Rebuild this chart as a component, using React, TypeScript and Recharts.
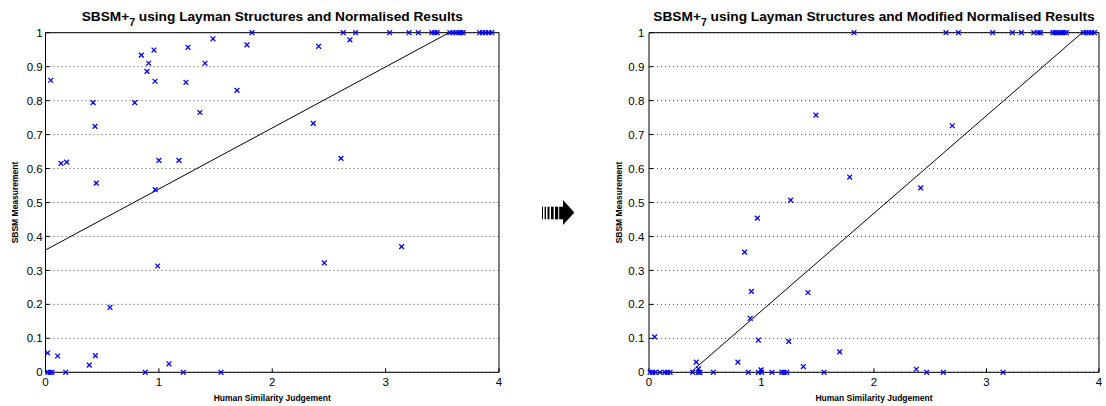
import React from 'react';
import {
  ScatterChart,
  Scatter,
  XAxis,
  YAxis,
  CartesianGrid,
} from 'recharts';

const normX = [
  1.821, 2.626, 2.735, 3.035, 3.207, 3.288, 3.408, 3.435, 3.455, 3.567, 3.594, 3.62, 3.647, 3.665, 3.684, 3.83, 3.857, 3.883, 3.91, 3.937,
  0.046, 0.42, 0.437, 0.787, 0.845, 0.91, 0.895, 0.957, 0.966, 1.239, 1.257, 1.362, 1.407, 1.477, 1.689, 1.777, 2.362, 2.409, 2.685,
  0.137, 0.187, 0.448, 0.968, 1.0, 1.177, 2.606, 3.141, 0.989, 2.459, 0.569,
  0.019, 0.107, 0.386, 0.44, 1.089,
  0.02, 0.04, 0.057, 0.178, 0.88, 1.215, 1.548,
];
const normY = [
  1, 1, 1, 1, 1, 1, 1, 1, 1, 1, 1, 1, 1, 1, 1, 1, 1, 1, 1, 1,
  0.86, 0.794, 0.724, 0.794, 0.934, 0.91, 0.886, 0.949, 0.857, 0.854, 0.957, 0.765, 0.91, 0.982, 0.83, 0.964, 0.733, 0.96, 0.979,
  0.615, 0.619, 0.557, 0.538, 0.624, 0.624, 0.63, 0.37, 0.313, 0.322, 0.191,
  0.057, 0.048, 0.021, 0.049, 0.025,
  0, 0, 0, 0, 0, 0, 0,
];

const modX = [
  1.822, 2.64, 2.75, 3.055, 3.23, 3.31, 3.42, 3.46, 3.48, 3.59, 3.61, 3.63, 3.65, 3.67, 3.69, 3.71, 3.86, 3.885, 3.91, 3.935, 3.96,
  1.484, 2.696, 0.85, 0.963, 1.259, 1.784, 2.415,
  0.05, 0.91, 0.9, 1.413, 0.972, 1.242, 1.695, 0.42, 0.79, 1.372, 2.376, 0.44, 0.996,
  0.009, 0.033, 0.056, 0.098, 0.142, 0.163, 0.187, 0.388, 0.438, 0.453, 0.572, 0.883, 0.972, 1.0, 1.093, 1.18, 1.2, 1.224, 1.556, 2.468, 2.616, 3.147,
];
const modY = [
  1, 1, 1, 1, 1, 1, 1, 1, 1, 1, 1, 1, 1, 1, 1, 1, 1, 1, 1, 1, 1,
  0.757, 0.726, 0.354, 0.454, 0.507, 0.575, 0.543,
  0.104, 0.238, 0.159, 0.235, 0.095, 0.091, 0.06, 0.03, 0.03, 0.017, 0.009, 0.01, 0.007,
  0, 0, 0, 0, 0, 0, 0, 0, 0, 0, 0, 0, 0, 0, 0, 0, 0, 0, 0, 0, 0, 0,
];

// least squares lines (end points where they meet the axes)
const normFitX = [0, 3.56];
const normFitY = [0.36, 1];
const modFitX = [0.37, 3.85];
const modFitY = [0, 1];

const xTicks = [0, 1, 2, 3, 4];
const yTicks = [0, 0.1, 0.2, 0.3, 0.4, 0.5, 0.6, 0.7, 0.8, 0.9, 1];

const toPoints = (xs: number[], ys: number[]) => xs.map((x, i) => ({ x, y: ys[i] }));

const XMark = (props: any) => {
  const { cx, cy } = props;
  const r = 2.4;
  return (
    <path
      d={`M${cx - r},${cy - r}L${cx + r},${cy + r}M${cx - r},${cy + r}L${cx + r},${cy - r}`}
      stroke="#0000ff"
      strokeWidth={1.3}
      fill="none"
    />
  );
};

const NoDot = () => <g />;

interface PanelProps {
  left: number;
  width: number;
  yAxisWidth: number;
  rightPad: number;
  tickGap: number;
  title: string;
  points: { x: number; y: number }[];
  fit: { x: number; y: number }[];
}

function Panel({ left, width, yAxisWidth, rightPad, tickGap, title, points, fit }: PanelProps) {
  const plotLeft = left + yAxisWidth;
  const plotWidth = width - yAxisWidth - rightPad - 5;
  return (
    <>
      <div
        style={{
          position: 'absolute',
          left: plotLeft - 40,
          width: plotWidth + 80,
          top: 9,
          height: 16,
          lineHeight: '16px',
          fontSize: 13.7,
          fontWeight: 'bold',
          textAlign: 'center',
          whiteSpace: 'nowrap',
        }}
      >
        SBSM+<span style={{ fontSize: 10.5, position: 'relative', top: 5 }}>7</span> {title}
      </div>
      <div style={{ position: 'absolute', left, top: 0 }}>
        <ScatterChart
          width={width}
          height={406}
          margin={{ top: 22.7, right: rightPad, bottom: 3.7, left: 0 }}
        >
          <CartesianGrid vertical={false} stroke="#444" strokeDasharray="1 3" />
          <XAxis
            dataKey="x"
            type="number"
            domain={[0, 4]}
            ticks={xTicks}
            height={30}
            stroke="#000"
            tickSize={-4}
            tickMargin={10}
            tick={{ fill: '#000', fontSize: 11.5 }}
            label={{
              value: 'Human Similarity Judgement',
              position: 'insideBottom',
              offset: 1.3,
              style: { fontSize: 8.5, fontWeight: 'bold', fill: '#000' },
            }}
          />
          <XAxis
            xAxisId="top"
            orientation="top"
            type="number"
            domain={[0, 4]}
            ticks={xTicks}
            height={10}
            stroke="#000"
            tickSize={-4}
            tick={false}
          />
          <YAxis
            dataKey="y"
            type="number"
            domain={[0, 1]}
            ticks={yTicks}
            width={yAxisWidth}
            stroke="#000"
            tickSize={-4}
            tickMargin={tickGap}
            tick={{ fill: '#000', fontSize: 11.5 }}
            label={{
              value: 'SBSM Measurement',
              angle: -90,
              position: 'insideLeft',
              offset: 14.5,
              style: { fontSize: 8.5, fontWeight: 'bold', fill: '#000', textAnchor: 'middle' },
            }}
          />
          <YAxis
            yAxisId="right"
            orientation="right"
            type="number"
            domain={[0, 1]}
            ticks={yTicks}
            width={5}
            stroke="#000"
            tickSize={-4}
            tick={false}
          />
          <Scatter
            data={fit}
            line={{ stroke: '#000', strokeWidth: 1 }}
            shape={NoDot}
            isAnimationActive={false}
          />
          <Scatter data={points} shape={XMark} isAnimationActive={false} />
        </ScatterChart>
      </div>
    </>
  );
}

export default function App() {
  return (
    <div
      style={{
        position: 'absolute',
        left: 0,
        top: 0,
        width: 1106,
        height: 406,
        background: '#fff',
        fontFamily: '"Liberation Sans", Arial, Helvetica, sans-serif',
      }}
    >
      <Panel
        left={0}
        width={520}
        yAxisWidth={45.5}
        rightPad={16}
        tickGap={6.8}
        title="using Layman Structures and Normalised Results"
        points={toPoints(normX, normY)}
        fit={toPoints(normFitX, normFitY)}
      />
      <Panel
        left={604}
        width={502}
        yAxisWidth={45}
        rightPad={2}
        tickGap={8.7}
        title="using Layman Structures and Modified Normalised Results"
        points={toPoints(modX, modY)}
        fit={toPoints(modFitX, modFitY)}
      />
      <svg style={{ position: 'absolute', left: 538, top: 196 }} width={40} height={32}>
        <g fill="#000" transform="translate(-538,-196)">
          <rect x={542} y={206.7} width={1} height={12.6} />
          <rect x={544.6} y={206.7} width={1.4} height={12.6} />
          <rect x={547.5} y={206.7} width={2} height={12.6} />
          <rect x={551} y={206.7} width={2.6} height={12.6} />
          <rect x={555} y={206.7} width={3.2} height={12.6} />
          <rect x={559.2} y={206.7} width={4.5} height={12.6} />
          <polygon points="563,200 574.3,212.5 563,225" />
        </g>
      </svg>
    </div>
  );
}
